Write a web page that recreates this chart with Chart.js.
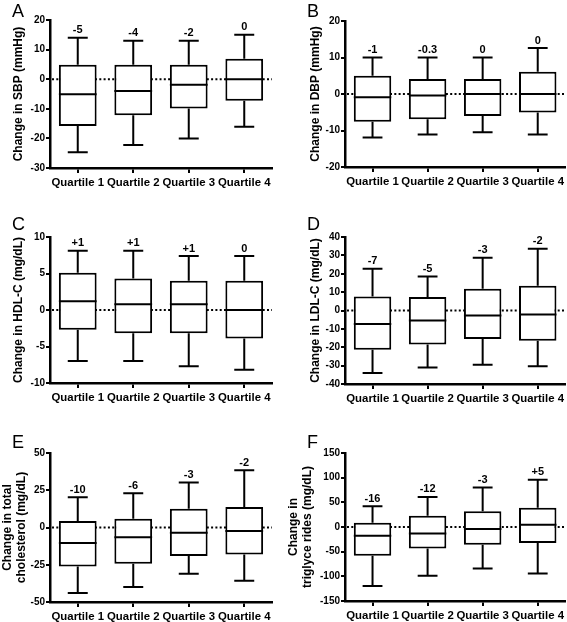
<!DOCTYPE html>
<html>
<head>
<meta charset="utf-8">
<script src="https://cdn.jsdelivr.net/npm/chart.js@4.4.0/dist/chart.umd.min.js"></script>
<style>
  body { margin: 0; background: #fff; width: 567px; height: 622px; position: relative; overflow: hidden; font-family: "Liberation Sans", Arial, sans-serif; }
  canvas { position: absolute; }
  .letter { position: absolute; font-size: 18px; line-height: 18px; color: #000; }
</style>
</head>
<body>
<canvas id="cA" width="283" height="200" style="left:0;top:0"></canvas>
<canvas id="cB" width="284" height="200" style="left:283px;top:0"></canvas>
<canvas id="cC" width="283" height="210" style="left:0;top:200px"></canvas>
<canvas id="cD" width="284" height="210" style="left:283px;top:200px"></canvas>
<canvas id="cE" width="283" height="212" style="left:0;top:410px"></canvas>
<canvas id="cF" width="284" height="212" style="left:283px;top:410px"></canvas>
<div class="letter" style="left:12px;top:2px">A</div>
<div class="letter" style="left:307px;top:2px">B</div>
<div class="letter" style="left:12px;top:215px">C</div>
<div class="letter" style="left:307px;top:215px">D</div>
<div class="letter" style="left:12px;top:433px">E</div>
<div class="letter" style="left:307px;top:433px">F</div>
<script>
const quartiles = ["Quartile 1", "Quartile 2", "Quartile 3", "Quartile 4"];

// A - systolic BP
const sbpMax = [14, 13, 13, 15];
const sbpQ3 = [4.9, 4.9, 4.9, 6.9];
const sbpMedian = [-5.1, -4, -1.9, 0];
const sbpQ1 = [-15.8, -12.2, -9.9, -7.3];
const sbpMin = [-24.7, -22.2, -20, -16.1];
const sbpText = ["-5", "-4", "-2", "0"];

// B - diastolic BP
const dbpMax = [10, 10, 10, 12.6];
const dbpQ3 = [5, 4.1, 4.1, 6.1];
const dbpMedian = [-0.9, -0.4, 0, 0];
const dbpQ1 = [-7.6, -6.9, -6, -5.1];
const dbpMin = [-11.9, -11.1, -10.5, -11.1];
const dbpText = ["-1", "-0.3", "0", "0"];

// C - HDL-C
const hdlMax = [8.1, 8.1, 7.4, 7.4];
const hdlQ3 = [5.1, 4.3, 4, 4];
const hdlMedian = [1.2, 0.8, 0.8, 0];
const hdlQ1 = [-2.7, -3.2, -3.2, -3.9];
const hdlMin = [-7, -7, -7.7, -8.2];
const hdlText = ["+1", "+1", "+1", "0"];

// D - LDL-C
const ldlMax = [22.7, 18.5, 28.7, 33.6];
const ldlQ3 = [7.6, 7.3, 11.8, 13.5];
const ldlMedian = [-7.3, -5.5, -2.7, -2.2];
const ldlQ1 = [-21.3, -18.5, -15.5, -16.4];
const ldlMin = [-34, -31, -29.5, -30.4];
const ldlText = ["-7", "-5", "-3", "-2"];

// E - total cholesterol
const tcMax = [20.3, 23, 30.2, 38.5];
const tcQ3 = [4.3, 5.9, 12.6, 13.7];
const tcMedian = [-10.4, -6.5, -3.6, -2.3];
const tcQ1 = [-26.1, -24.3, -19.1, -18.2];
const tcMin = [-44, -40, -31, -35.8];
const tcText = ["-10", "-6", "-3", "-2"];

// F - triglycerides
const tgMax = [42, 61, 80, 96];
const tgQ3 = [8.8, 23, 32, 38.8];
const tgMedian = [-17.7, -13, -4, 4.8];
const tgQ1 = [-58.5, -43.5, -36, -32.6];
const tgMin = [-119.7, -99, -84, -94.5];
const tgText = ["-16", "-12", "-3", "+5"];

const FONT = '"Liberation Sans", Arial, sans-serif';

// whiskers, median, caps and the value above each box
const boxWhiskers = {
  id: "boxWhiskers",
  beforeDatasetsDraw(chart) {
    const { ctx, chartArea: a, scales: { y } } = chart;
    const y0 = y.getPixelForValue(0);
    ctx.save();
    ctx.strokeStyle = "#000";
    ctx.lineWidth = 2;
    ctx.setLineDash([2, 2.3]);
    ctx.beginPath();
    ctx.moveTo(a.left + 2, y0);
    ctx.lineTo(a.right, y0);
    ctx.stroke();
    ctx.restore();
  },
  afterDatasetsDraw(chart, args, o) {
    const { ctx, scales: { x, y } } = chart;
    const bars = chart.getDatasetMeta(0).data;
    const cap = x.width / quartiles.length * 0.18;
    ctx.save();
    ctx.strokeStyle = "#000";
    ctx.fillStyle = "#000";
    ctx.lineWidth = 2;
    ctx.font = "bold 11px " + FONT;
    ctx.textAlign = "center";
    ctx.textBaseline = "bottom";
    bars.forEach((bar, i) => {
      const cx = x.getPixelForValue(i);
      const half = bar.width / 2;
      const yHi = y.getPixelForValue(o.max[i]);
      const yLo = y.getPixelForValue(o.min[i]);
      const yQ3 = y.getPixelForValue(o.q3[i]);
      const yQ1 = y.getPixelForValue(o.q1[i]);
      const yMed = y.getPixelForValue(o.median[i]);
      ctx.beginPath();
      ctx.moveTo(cx, yQ3); ctx.lineTo(cx, yHi);
      ctx.moveTo(cx - cap, yHi); ctx.lineTo(cx + cap, yHi);
      ctx.moveTo(cx, yQ1); ctx.lineTo(cx, yLo);
      ctx.moveTo(cx - cap, yLo); ctx.lineTo(cx + cap, yLo);
      ctx.moveTo(cx - half, yMed); ctx.lineTo(cx + half, yMed);
      ctx.stroke();
      ctx.fillText(o.text[i], cx, yHi - 2);
    });
    ctx.restore();
  }
};

function makePanel(id, p) {
  const canvas = document.getElementById(id);
  const w = canvas.width, h = canvas.height;
  new Chart(canvas, {
    type: "bar",
    data: {
      labels: quartiles,
      datasets: [{
        data: p.q1.map((v, i) => [v, p.q3[i]]),
        backgroundColor: "#fff",
        borderColor: "#000",
        borderWidth: 2,
        borderSkipped: false,
        barPercentage: 0.68,
        categoryPercentage: 1
      }]
    },
    options: {
      responsive: false,
      animation: false,
      devicePixelRatio: 1,
      layout: { padding: { left: 0, top: p.area[1], right: w - p.area[2], bottom: 0 } },
      plugins: {
        legend: { display: false },
        tooltip: { enabled: false },
        boxWhiskers: { min: p.min, q1: p.q1, median: p.median, q3: p.q3, max: p.max, text: p.text }
      },
      scales: {
        x: {
          grid: { offset: false, drawOnChartArea: false, color: "#000", lineWidth: 2, tickLength: 5 },
          border: { color: "#000", width: 2.5 },
          ticks: { color: "#000", font: { family: FONT, size: 11.4, weight: "bold" }, padding: 3, maxRotation: 0, autoSkip: false },
          afterFit: s => { s.height = h - p.area[3]; }
        },
        y: {
          min: p.ticks[0],
          max: p.ticks[1],
          ticks: { stepSize: p.ticks[2], color: "#000", font: { family: FONT, size: 10, weight: "bold" }, padding: 1 },
          grid: { drawOnChartArea: false, color: "#000", lineWidth: 2, tickLength: 4 },
          border: { color: "#000", width: 2.5 },
          title: { display: true, text: p.title, color: "#000", font: { family: FONT, size: 12, weight: "bold" }, padding: { top: p.titlePad, bottom: 0 } },
          afterFit: s => { s.width = p.area[0]; }
        }
      }
    },
    plugins: [boxWhiskers]
  });
}

makePanel("cA", { min: sbpMin, q1: sbpQ1, median: sbpMedian, q3: sbpQ3, max: sbpMax, text: sbpText,
  ticks: [-30, 20, 10], title: "Change in SBP (mmHg)", titlePad: 11, area: [50, 20, 272, 168] });
makePanel("cB", { min: dbpMin, q1: dbpQ1, median: dbpMedian, q3: dbpQ3, max: dbpMax, text: dbpText,
  ticks: [-20, 20, 10], title: "Change in DBP (mmHg)", titlePad: 25, area: [62, 21, 284, 167] });
makePanel("cC", { min: hdlMin, q1: hdlQ1, median: hdlMedian, q3: hdlQ3, max: hdlMax, text: hdlText,
  ticks: [-10, 10, 5], title: "Change in HDL-C (mg/dL)", titlePad: 11, area: [50, 37, 272, 183] });
makePanel("cD", { min: ldlMin, q1: ldlQ1, median: ldlMedian, q3: ldlQ3, max: ldlMax, text: ldlText,
  ticks: [-40, 40, 10], title: "Change in LDL-C (mg/dL)", titlePad: 25, area: [62, 37, 284, 184] });
makePanel("cE", { min: tcMin, q1: tcQ1, median: tcMedian, q3: tcQ3, max: tcMax, text: tcText,
  ticks: [-50, 50, 25], title: ["Change in total", "cholesterol (mg/dL)"], titlePad: 0, area: [50, 43, 272, 192] });
makePanel("cF", { min: tgMin, q1: tgQ1, median: tgMedian, q3: tgQ3, max: tgMax, text: tgText,
  ticks: [-150, 150, 50], title: ["Change in", "triglyce rides (mg/dL)"], titlePad: 3, area: [62, 43, 284, 191] });
</script>
</body>
</html>
